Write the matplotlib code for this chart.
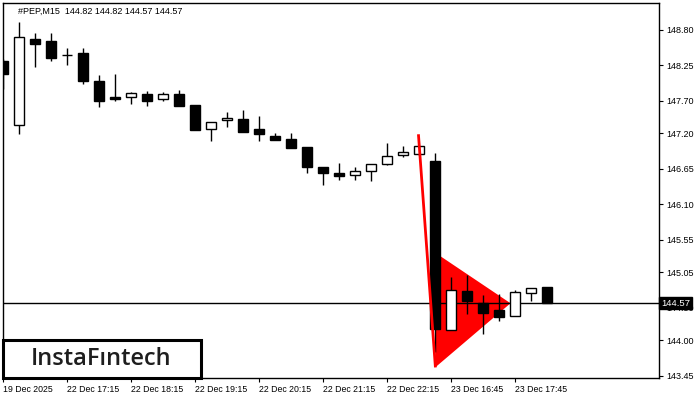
import matplotlib
matplotlib.use("Agg")
import matplotlib.pyplot as plt
from matplotlib.patches import Rectangle, Polygon

# 15-minute candles, oldest first
opens = [148.32, 147.33, 148.65, 148.63, 148.40, 148.43, 148.01, 147.75, 147.75, 147.81,
         147.72, 147.81, 147.64, 147.26, 147.40, 147.42, 147.265, 147.155, 147.11, 146.985,
         146.675, 146.585, 146.545, 146.61, 146.715, 146.855, 146.87, 146.775, 144.155, 144.765,
         144.58, 144.465, 144.375, 144.73, 144.82]
highs = [148.34, 148.92, 148.74, 148.74, 148.52, 148.52, 148.10, 148.12, 147.84, 147.845,
         147.84, 147.86, 147.64, 147.37, 147.53, 147.55, 147.47, 147.20, 147.20, 146.985,
         146.675, 146.73, 146.68, 146.72, 147.04, 147.005, 147.00, 146.895, 144.98, 145.00,
         144.69, 144.72, 144.78, 144.805, 144.82]
lows = [147.88, 147.19, 148.22, 148.31, 148.25, 147.955, 147.61, 147.69, 147.645, 147.625,
        147.70, 147.625, 147.25, 147.08, 147.29, 147.21, 147.08, 147.09, 146.965, 146.58,
        146.40, 146.475, 146.47, 146.455, 146.70, 146.835, 146.86, 143.81, 144.155, 144.40,
        144.09, 144.29, 144.375, 144.60, 144.57]
closes = [148.12, 148.69, 148.57, 148.36, 148.40, 148.00, 147.70, 147.72, 147.82, 147.70,
          147.81, 147.625, 147.25, 147.37, 147.435, 147.21, 147.18, 147.09, 146.965, 146.67,
          146.58, 146.53, 146.615, 146.72, 146.845, 146.90, 147.00, 144.165, 144.775, 144.60,
          144.415, 144.35, 144.745, 144.805, 144.57]

time_ticks = [0, 4, 8, 12, 16, 20, 24, 28, 32]
time_labels = ["19 Dec 2025", "22 Dec 17:15", "22 Dec 18:15", "22 Dec 19:15", "22 Dec 20:15",
               "22 Dec 21:15", "22 Dec 22:15", "23 Dec 16:45", "23 Dec 17:45"]
price_ticks = [148.80, 148.25, 147.70, 147.20, 146.65, 146.10, 145.55, 145.05, 144.50, 144.00, 143.45]

last_price = 144.57
# bearish pennant: pole and triangle (candle index, price)
pole_x = [25.95, 27.0]
pole_y = [147.16, 143.60]
pennant_x = [27.0, 27.0, 31.7]
pennant_y = [145.35, 143.58, 144.57]

plt.rcParams['font.family'] = ['Liberation Sans', 'DejaVu Sans']

fig = plt.figure(figsize=(7, 4), dpi=100)
ax = fig.add_axes([3 / 700, 22 / 400, 656 / 700, 375 / 400])

# pattern
ax.add_patch(Polygon(list(zip(pennant_x, pennant_y)), closed=True, facecolor='#ff0000',
                     edgecolor='none', zorder=1))
ax.axhline(last_price, color='black', lw=1, zorder=2)

# candles
w = 0.64
for i in range(len(opens)):
    o, h, l, c = opens[i], highs[i], lows[i], closes[i]
    ax.vlines(i, l, h, color='black', lw=1, zorder=3)
    face = 'white' if c > o else 'black'
    ax.bar(i, c - o, bottom=o, width=w, facecolor=face, edgecolor='black', lw=1, zorder=4)

ax.plot(pole_x, pole_y, color='#ff0000', lw=2, zorder=5)

ax.set_xlim(-0.02, 40.98)
ax.set_ylim(143.415, 149.21)

ax.yaxis.tick_right()
ax.set_yticks(price_ticks)
ax.set_yticklabels([f"{p:.2f}" for p in price_ticks], fontsize=6.5)
ax.set_xticks(time_ticks)
ax.set_xticklabels(time_labels, fontsize=6.3)
for lbl in ax.get_xticklabels():
    lbl.set_horizontalalignment('left')
ax.tick_params(axis='both', direction='out', length=3, width=0.8, pad=2, colors='black')
for s in ax.spines.values():
    s.set_linewidth(1)

# current price tag
ax.text(1.003, last_price, "144.57", transform=ax.get_yaxis_transform(), fontsize=6.8,
        color='white', va='center', ha='left', clip_on=False, zorder=20,
        bbox=dict(boxstyle='square,pad=0.18', facecolor='black', edgecolor='black'))

fig.text(18 / 700, 389 / 400, "#PEP,M15  144.82 144.82 144.57 144.57", fontsize=6.5,
         va='center', ha='left')

# logo
fig.add_artist(Rectangle((3 / 700, 22 / 400), 198 / 700, 38 / 400, transform=fig.transFigure,
                         facecolor='white', edgecolor='black', lw=2.2, zorder=10))
fig.text(101 / 700, 41 / 400, "InstaF\u0131ntech", fontsize=17, family=['Open Sans', 'DejaVu Sans'],
         weight='semibold', color='#1e1e1e', ha='center', va='center', zorder=11)

fig.savefig("out.png", dpi=100)
